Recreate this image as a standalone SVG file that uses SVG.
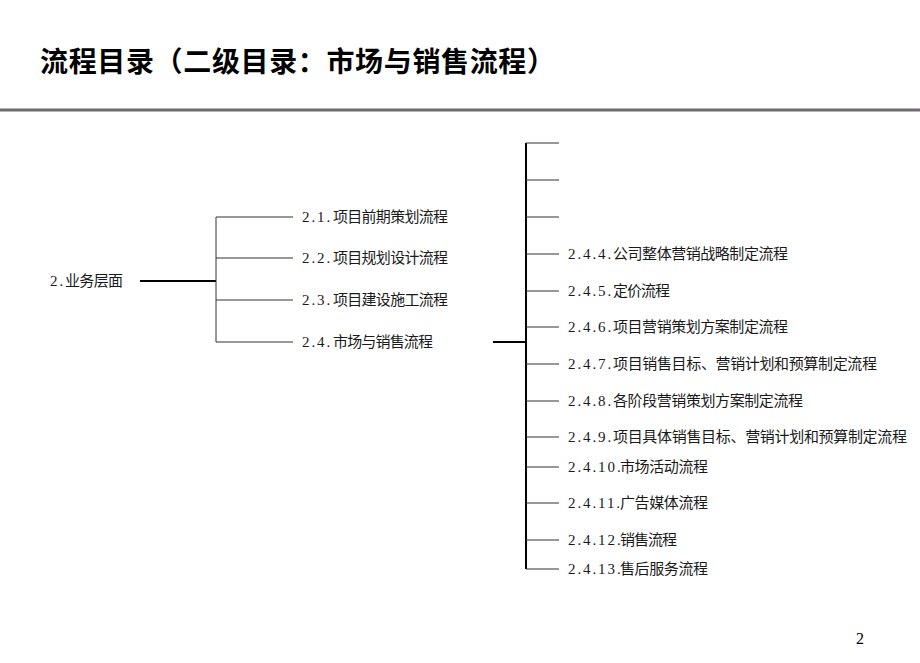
<svg xmlns="http://www.w3.org/2000/svg" width="920" height="663" viewBox="0 0 920 663">
<style>
.t{font-family:"Liberation Serif","Noto Sans CJK SC",serif;font-size:15px;fill:#1a1a1a}
.d{letter-spacing:1.9px}
.title{font-family:"Noto Sans CJK SC","Liberation Sans",sans-serif;font-size:28px;font-weight:bold;fill:#000}
.pg{font-family:"Liberation Serif","Noto Sans CJK SC",serif;font-size:16px;fill:#000}
.thin{stroke:#333;stroke-width:1;fill:none}
.thick{stroke:#000;stroke-width:2;fill:none}
</style>
<rect width="920" height="663" fill="#fff"/>
<text class="title" x="40" y="72" textLength="515">流程目录（二级目录：市场与销售流程）</text>
<line x1="0" y1="110" x2="920" y2="110" stroke="#6e6a70" stroke-width="3"/>
<g id="connectors">
  <line class="thick" x1="140" y1="281" x2="216" y2="281"/>
  <line class="thin" x1="216" y1="217" x2="216" y2="342"/>
  <line class="thin" x1="216" y1="217" x2="293" y2="217"/>
  <line class="thin" x1="216" y1="258" x2="293" y2="258"/>
  <line class="thin" x1="216" y1="300" x2="293" y2="300"/>
  <line class="thin" x1="216" y1="342" x2="293" y2="342"/>
  <line class="thick" x1="493" y1="342" x2="526" y2="342"/>
  <line class="thick" x1="526" y1="143" x2="526" y2="569"/>
  <line class="thin" x1="526" y1="143" x2="559" y2="143"/>
  <line class="thin" x1="526" y1="180" x2="559" y2="180"/>
  <line class="thin" x1="526" y1="217" x2="559" y2="217"/>
  <line class="thin" x1="526" y1="254" x2="559" y2="254"/>
  <line class="thin" x1="526" y1="291" x2="559" y2="291"/>
  <line class="thin" x1="526" y1="327" x2="559" y2="327"/>
  <line class="thin" x1="526" y1="364" x2="559" y2="364"/>
  <line class="thin" x1="526" y1="401" x2="559" y2="401"/>
  <line class="thin" x1="526" y1="437" x2="559" y2="437"/>
  <line class="thin" x1="526" y1="467" x2="559" y2="467"/>
  <line class="thin" x1="526" y1="503" x2="559" y2="503"/>
  <line class="thin" x1="526" y1="540" x2="559" y2="540"/>
  <line class="thin" x1="526" y1="569" x2="559" y2="569"/>
</g>
<g id="n2"><text class="t" x="50" y="286"><tspan class="d">2.</tspan><tspan x="65" textLength="58">业务层面</tspan></text></g>
<g id="n2-1"><text class="t" x="302" y="222"><tspan class="d">2.1.</tspan><tspan x="333" textLength="115">项目前期策划流程</tspan></text></g>
<g id="n2-2"><text class="t" x="302" y="263"><tspan class="d">2.2.</tspan><tspan x="333" textLength="115">项目规划设计流程</tspan></text></g>
<g id="n2-3"><text class="t" x="302" y="305"><tspan class="d">2.3.</tspan><tspan x="333" textLength="115">项目建设施工流程</tspan></text></g>
<g id="n2-4"><text class="t" x="302" y="347"><tspan class="d">2.4.</tspan><tspan x="333" textLength="100">市场与销售流程</tspan></text></g>
<g id="n2-4-4"><text class="t" x="568" y="259"><tspan class="d">2.4.4.</tspan><tspan x="613" textLength="175">公司整体营销战略制定流程</tspan></text></g>
<g id="n2-4-5"><text class="t" x="568" y="296"><tspan class="d">2.4.5.</tspan><tspan x="613" textLength="57">定价流程</tspan></text></g>
<g id="n2-4-6"><text class="t" x="568" y="332"><tspan class="d">2.4.6.</tspan><tspan x="613" textLength="175">项目营销策划方案制定流程</tspan></text></g>
<g id="n2-4-7"><text class="t" x="568" y="369"><tspan class="d">2.4.7.</tspan><tspan x="613" textLength="264">项目销售目标、营销计划和预算制定流程</tspan></text></g>
<g id="n2-4-8"><text class="t" x="568" y="406"><tspan class="d">2.4.8.</tspan><tspan x="613" textLength="190">各阶段营销策划方案制定流程</tspan></text></g>
<g id="n2-4-9"><text class="t" x="568" y="442"><tspan class="d">2.4.9.</tspan><tspan x="613" textLength="294">项目具体销售目标、营销计划和预算制定流程</tspan></text></g>
<g id="n2-4-10"><text class="t" x="568" y="472"><tspan class="d">2.4.10.</tspan><tspan x="620" textLength="88">市场活动流程</tspan></text></g>
<g id="n2-4-11"><text class="t" x="568" y="508"><tspan class="d">2.4.11.</tspan><tspan x="620" textLength="88">广告媒体流程</tspan></text></g>
<g id="n2-4-12"><text class="t" x="568" y="545"><tspan class="d">2.4.12.</tspan><tspan x="620" textLength="57">销售流程</tspan></text></g>
<g id="n2-4-13"><text class="t" x="568" y="574"><tspan class="d">2.4.13.</tspan><tspan x="620" textLength="88">售后服务流程</tspan></text></g>
<text class="pg" x="856" y="644">2</text>
</svg>
